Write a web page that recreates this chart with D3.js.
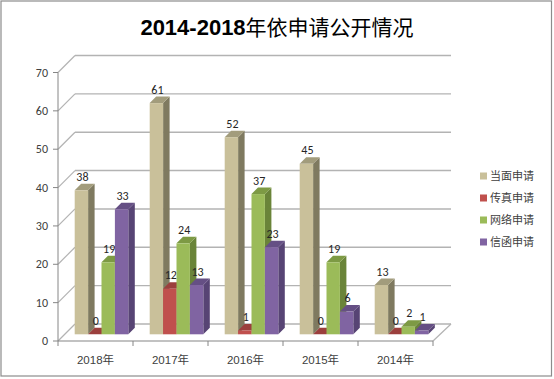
<!DOCTYPE html>
<html><head><meta charset="utf-8">
<script src="https://cdn.jsdelivr.net/npm/d3@7"></script>
<style>body{margin:0;background:#fff}svg{display:block}</style>
</head><body>
<script>
const categories = ["2018年","2017年","2016年","2015年","2014年"];
const seriesNames = ["当面申请","传真申请","网络申请","信函申请"];
const s1 = [38,61,52,45,13];
const s2 = [0,12,1,0,0];
const s3 = [19,24,37,19,2];
const s4 = [33,13,23,6,1];
const yTicks = [0,10,20,30,40,50,60,70];
const seriesValues = [s1,s2,s3,s4];
const colors = [
  {front:"#c9c09a", side:"#7f7a60", top:"#a29c7c"},
  {front:"#c0504d", side:"#8a3836", top:"#9b3f3d"},
  {front:"#9bbb59", side:"#6a8439", top:"#7d9a44"},
  {front:"#8064a2", side:"#574474", top:"#654f84"}
];
const W=554,H=379;
const svg=d3.select("body").append("svg").attr("width",W).attr("height",H);
svg.append("rect").attr("x",1).attr("y",1).attr("width",550.5).attr("height",375).attr("fill","#fff").attr("stroke","#8c8c8c").attr("stroke-width",1.2);

const font="Calibri, Carlito, 'Liberation Sans', 'Noto Sans CJK SC', sans-serif";
const title=svg.append("text").attr("x",277).attr("y",35).attr("text-anchor","middle").attr("font-size",21).attr("fill","#000").attr("font-family","'Liberation Sans','Noto Sans CJK SC',sans-serif");
title.append("tspan").attr("font-weight","bold").attr("font-size",22).text("2014-2018");
title.append("tspan").attr("font-family","'Noto Sans CJK SC',sans-serif").text("年依申请公开情况");

const DX=17, DY=-17;
const y=d3.scaleLinear().domain([0,70]).range([341,72.5]);
const x=d3.scaleBand().domain(categories).range([58,433]);
const yBar=d3.scaleLinear().domain([0,70]).range([334.3,334.3-70*3.79]);
const BX=6, BW=13.4, bd=6.5;

const g=svg.append("g");
yTicks.forEach(t=>{
  const yy=y(t);
  g.append("line").attr("x1",58+DX).attr("y1",yy+DY).attr("x2",433+DX+1).attr("y2",yy+DY).attr("stroke","#b3b3b3").attr("stroke-width",1.4);
  g.append("line").attr("x1",58).attr("y1",yy).attr("x2",58+DX).attr("y2",yy+DY).attr("stroke","#b3b3b3").attr("stroke-width",1.2);
});
g.append("line").attr("x1",433).attr("y1",y(0)).attr("x2",433+DX+1).attr("y2",y(0)+DY).attr("stroke","#b3b3b3").attr("stroke-width",1.2);
g.append("line").attr("x1",58).attr("y1",y(70)).attr("x2",58).attr("y2",y(0)).attr("stroke","#868686").attr("stroke-width",1);
g.append("line").attr("x1",58).attr("y1",y(0)).attr("x2",433).attr("y2",y(0)).attr("stroke","#868686").attr("stroke-width",1.2);
yTicks.forEach(t=>{
  g.append("line").attr("x1",53).attr("x2",58).attr("y1",y(t)).attr("y2",y(t)).attr("stroke","#868686");
  g.append("text").attr("x",48).attr("y",y(t)+4).attr("text-anchor","end").attr("font-size",12).attr("fill","#404040").attr("font-family",font).text(t);
});
const bounds=[58].concat(categories.map(c=>x(c)+x.bandwidth()));
bounds.forEach(b=>{
  g.append("line").attr("x1",b).attr("x2",b).attr("y1",y(0)).attr("y2",y(0)+5).attr("stroke","#868686");
});
categories.forEach(c=>{
  g.append("text").attr("x",x(c)+x.bandwidth()/2).attr("y",364).attr("text-anchor","middle").attr("font-size",11.5).attr("fill","#404040").attr("font-family","'Liberation Sans','Noto Sans CJK SC',sans-serif").text(c);
});

const inner=(x.bandwidth()-4*BW)/2;
categories.forEach((c,ci)=>{
  seriesValues.forEach((vals,si)=>{
    const v=vals[ci];
    const x0=x(c)+inner+BX+si*BW, x1=x0+BW;
    const yb=yBar(0), yt=yBar(v);
    const col=colors[si];
    g.append("path").attr("d",`M${x1},${yb}L${x1+bd},${yb-bd}L${x1+bd},${yt-bd}L${x1},${yt}Z`).attr("fill",col.side);
    g.append("path").attr("d",`M${x0},${yt}L${x0+bd},${yt-bd}L${x1+bd},${yt-bd}L${x1},${yt}Z`).attr("fill",col.top);
    g.append("rect").attr("x",x0).attr("y",yt).attr("width",BW).attr("height",Math.max(0,yb-yt)).attr("fill",col.front);
    g.append("text").attr("x",x0+BW/2+1).attr("y",yt-bd-3).attr("text-anchor","middle").attr("font-size",12).attr("fill","#262626").attr("font-family",font).text(v);
  });
});

seriesNames.forEach((n,i)=>{
  const ly=176+i*22;
  svg.append("rect").attr("x",480).attr("y",ly-3.5).attr("width",7).attr("height",7).attr("fill",colors[i].front);
  svg.append("text").attr("x",490).attr("y",ly+4).attr("font-size",11).attr("fill","#404040").attr("font-family","'Noto Sans CJK SC',sans-serif").text(n);
});
</script>
</body></html>
